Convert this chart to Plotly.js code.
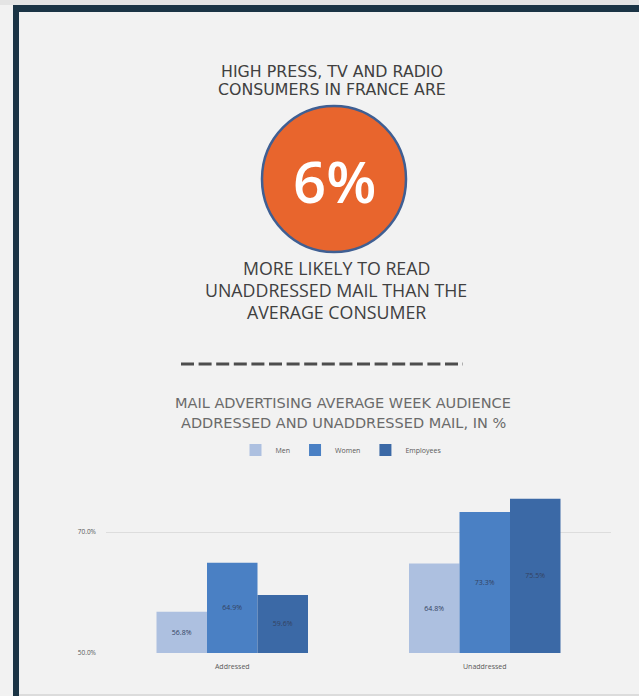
<!DOCTYPE html>
<html>
<head>
<meta charset="utf-8">
<script src="https://cdn.plot.ly/plotly-3.0.1.min.js"></script>
<style>
html,body{margin:0;padding:0;background:#f2f2f2;}
#chart{width:639px;height:696px;}
</style>
</head>
<body>
<div id="chart"></div>
<script>
const categories = ["Addressed", "Unaddressed"];
const seriesNames = ["Men", "Women", "Employees"];
const menValues = [56.8, 64.8];
const womenValues = [64.9, 73.3];
const employeesValues = [59.6, 75.5];
const axisMin = 50;
const axisMax = 80;
const yTickValues = [50, 70];
const yTickLabels = ["50.0%", "70.0%"];
const headlineTop = ["HIGH PRESS, TV AND RADIO", "CONSUMERS IN FRANCE ARE"];
const bigNumber = "6%";
const headlineBottom = ["MORE LIKELY TO READ", "UNADDRESSED MAIL THAN THE", "AVERAGE CONSUMER"];
const chartTitle = ["MAIL ADVERTISING AVERAGE WEEK AUDIENCE", "ADDRESSED AND UNADDRESSED MAIL, IN %"];

const W = 639, H = 696;
const colors = ["#adc0e0", "#4a80c4", "#3b69a6"];
const allValues = [menValues, womenValues, employeesValues];
const font = "Open Sans, Noto Sans, sans-serif";
const wideFont = "DejaVu Sans, Open Sans, sans-serif";

// bars start at the axis minimum, as in the original chart
const traces = allValues.map((vals, i) => ({
  type: "bar",
  name: seriesNames[i],
  x: categories,
  base: vals.map(() => axisMin),
  y: vals.map(v => v - axisMin),
  marker: {color: colors[i], line: {width: 0}},
  text: vals.map(v => v.toFixed(1) + "%"),
  textposition: "inside",
  insidetextanchor: "middle",
  textangle: 0,
  textfont: {family: font, size: 7, color: "#34425f"},
  hoverinfo: "none"
}));

function px(x){return x / W;}
function py(y){return 1 - y / H;}

const annotations = [];
headlineTop.forEach((t, i) => annotations.push({
  text: t, xref: "paper", yref: "paper", x: px(332), y: py(71.5 + i * 17.5),
  xanchor: "center", yanchor: "middle", showarrow: false,
  font: {family: wideFont, size: 15.8, color: "#404040"}
}));
annotations.push({
  text: bigNumber, xref: "paper", yref: "paper", x: px(334), y: py(181),
  xanchor: "center", yanchor: "middle", showarrow: false,
  font: {family: font, size: 58, color: "#ffffff", weight: 600}
});
headlineBottom.forEach((t, i) => annotations.push({
  text: t, xref: "paper", yref: "paper", x: px(336), y: py(268 + i * 22),
  xanchor: "center", yanchor: "middle", showarrow: false,
  font: {family: font, size: 17.8, color: "#404040"}
}));
chartTitle.forEach((t, i) => annotations.push({
  text: t, xref: "paper", yref: "paper", x: px(343), y: py(403 + i * 20),
  xanchor: "center", yanchor: "middle", showarrow: false,
  font: {family: wideFont, size: 14.5, color: "#6a6a6a"}
}));

const shapes = [
  {type: "rect", xref: "paper", yref: "paper", x0: 0, x1: 1, y0: py(5), y1: 1, fillcolor: "#e4e4e4", line: {width: 0}, layer: "below"},
  {type: "rect", xref: "paper", yref: "paper", x0: px(13), x1: 1, y0: py(12), y1: py(5), fillcolor: "#1b3445", line: {width: 0}},
  {type: "rect", xref: "paper", yref: "paper", x0: px(13), x1: px(19), y0: 0, y1: py(5), fillcolor: "#1b3445", line: {width: 0}},
  {type: "rect", xref: "paper", yref: "paper", x0: px(19), x1: 1, y0: 0, y1: py(694), fillcolor: "#dcdcdc", line: {width: 0}},
  {type: "circle", xref: "paper", yref: "paper", x0: px(262), x1: px(406), y0: py(252), y1: py(106),
   fillcolor: "#e8652d", line: {color: "#3f5f93", width: 2.5}},
  {type: "line", xref: "paper", yref: "paper", x0: px(181), x1: px(463), y0: py(364), y1: py(364),
   line: {color: "#4d4d4d", width: 3, dash: "13px,4.6px"}}
];

const layout = {
  width: W, height: H,
  margin: {l: 0, r: 0, t: 0, b: 0},
  paper_bgcolor: "#f2f2f2",
  plot_bgcolor: "rgba(0,0,0,0)",
  barmode: "group",
  bargap: 0.4,
  bargroupgap: 0,
  showlegend: true,
  legend: {
    orientation: "h", x: px(341), xanchor: "center", y: py(450), yanchor: "middle",
    font: {family: font, size: 7, color: "#595959"}, bgcolor: "rgba(0,0,0,0)",
    itemwidth: 30, traceorder: "normal"
  },
  xaxis: {
    domain: [px(106), px(611)],
    showgrid: false, zeroline: false, showline: false, ticks: "",
    tickfont: {family: font, size: 7, color: "#595959"},
    ticklabelstandoff: 8, fixedrange: true
  },
  yaxis: {
    domain: [py(653), py(471.5)],
    range: [axisMin, axisMax],
    tickvals: yTickValues, ticktext: yTickLabels,
    showgrid: true, gridcolor: "#dddddd", gridwidth: 1,
    zeroline: false, showline: false, ticks: "",
    tickfont: {family: font, size: 6.5, color: "#595959"},
    ticklabelstandoff: 9, fixedrange: true
  },
  annotations: annotations,
  shapes: shapes
};

Plotly.newPlot("chart", traces, layout, {displayModeBar: false, staticPlot: true});
</script>
</body>
</html>
